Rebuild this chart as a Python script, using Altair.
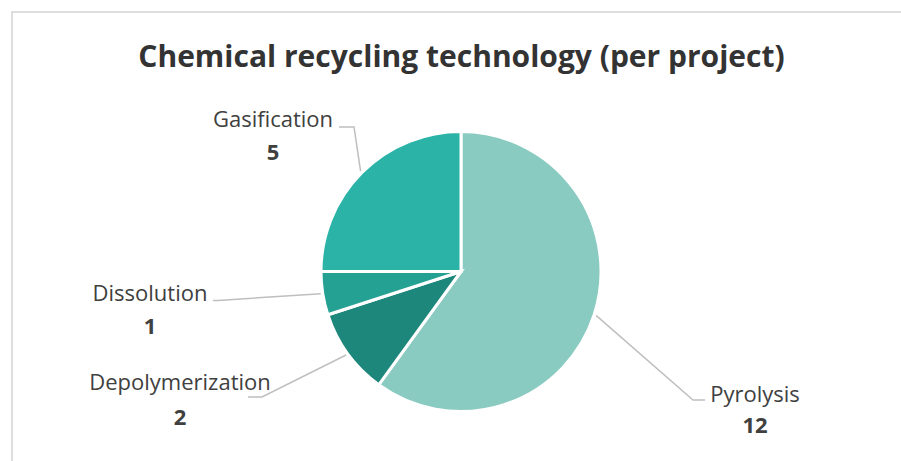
import math
import altair as alt
import pandas as pd

# ---- data ----
categories = ["Pyrolysis", "Depolymerization", "Dissolution", "Gasification"]
projects = [12, 2, 1, 5]
colors = ["#8ACBC1", "#1E877B", "#25A194", "#2BB3A8"]
TITLE = "Chemical recycling technology (per project)"

# ---- layout (window pixels) ----
W, H = 901, 461
TOP = 100
CX, CY, R = 461, 271.5, 139
TITLE_X, TITLE_BASE = 461.5, 67
label_x = [755, 180, 150, 273]
name_base = [402, 390, 301, 127]
value_base = [433, 425, 334, 160]
elbow = [(693, 400), (262, 397), (218, 300.5), (354, 127)]
ends = [(705, 400), (248, 397), (213, 300.5), (339, 127)]

total = sum(projects)
pie_df = pd.DataFrame({"category": categories, "projects": projects,
                       "order": list(range(len(categories)))})

# leader lines start at slice mid-angle on the pie edge
rows = []
cum = 0
for i, (c, v) in enumerate(zip(categories, projects)):
    mid = (cum + v / 2) / total * 2 * math.pi
    cum += v
    sx = CX + (R + 3) * math.sin(mid)
    sy = CY - (R + 3) * math.cos(mid)
    rows.append({"category": c, "step": 0, "px": sx, "py": sy})
    rows.append({"category": c, "step": 1, "px": elbow[i][0], "py": elbow[i][1]})
    rows.append({"category": c, "step": 2, "px": ends[i][0], "py": ends[i][1]})
lead_df = pd.DataFrame(rows)

lab_df = pd.DataFrame({"category": categories, "projects": projects,
                       "lx": label_x, "ny": name_base, "vy": value_base})

xs = alt.Scale(domain=[0, W], range=[0, W])
ys = alt.Scale(domain=[TOP, H], range=[0, H - TOP])

border = alt.Chart(pd.DataFrame({"x": [12], "y": [12], "x2": [W + 30], "y2": [H + 30]})).mark_rect(
    fillOpacity=0, stroke="#DEDEDE", strokeWidth=2
).encode(
    x=alt.X("x:Q", scale=xs, axis=None), y=alt.Y("y:Q", scale=ys, axis=None),
    x2="x2:Q", y2="y2:Q"
)

title = alt.Chart(pd.DataFrame({"t": [TITLE], "x": [TITLE_X], "y": [TITLE_BASE]})).mark_text(
    font="Open Sans", fontSize=30, fontWeight="bold", color="#333333",
    align="center", baseline="alphabetic"
).encode(
    x=alt.X("x:Q", scale=xs, axis=None), y=alt.Y("y:Q", scale=ys, axis=None), text="t:N"
)

pie = alt.Chart(pie_df).mark_arc(outerRadius=R + 1, stroke="white", strokeWidth=3).encode(
    theta=alt.Theta("projects:Q", stack=True),
    color=alt.Color("category:N", scale=alt.Scale(domain=categories, range=colors), legend=None),
    order=alt.Order("order:Q"),
    x=alt.value(CX), y=alt.value(CY - TOP),
)

leaders = alt.Chart(lead_df).mark_line(color="#BFBFBF", strokeWidth=1.5).encode(
    x=alt.X("px:Q", scale=xs, axis=None), y=alt.Y("py:Q", scale=ys, axis=None),
    detail="category:N", order="step:Q"
)

names = alt.Chart(lab_df).mark_text(
    font="Open Sans", fontSize=22, color="#404040", align="center", baseline="alphabetic"
).encode(
    x=alt.X("lx:Q", scale=xs, axis=None), y=alt.Y("ny:Q", scale=ys, axis=None), text="category:N"
)

values = alt.Chart(lab_df).mark_text(
    font="Open Sans", fontSize=22, fontWeight="bold", color="#404040", align="center", baseline="alphabetic"
).encode(
    x=alt.X("lx:Q", scale=xs, axis=None), y=alt.Y("vy:Q", scale=ys, axis=None), text="projects:Q"
)

chart = alt.layer(border, title, pie, leaders, names, values).properties(
    width=W, height=H - TOP,
    padding={"left": 0, "top": TOP, "right": 0, "bottom": 0},
    autosize=alt.AutoSizeParams(type="none"),
).configure_view(stroke=None)

chart.save("out.html", embed_options={"renderer": "svg", "actions": False})
